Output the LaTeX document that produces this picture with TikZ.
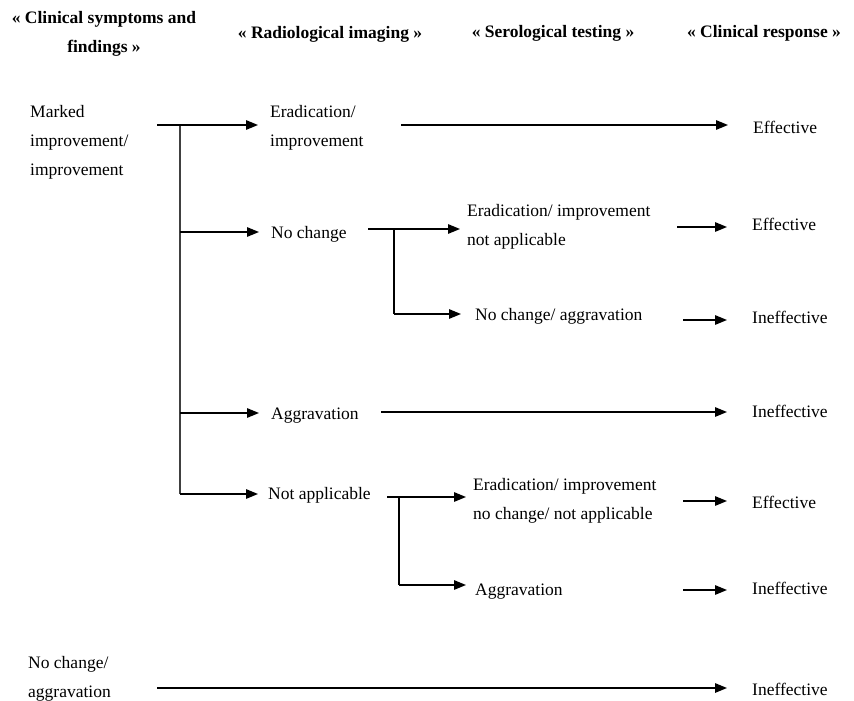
\documentclass[tikz,border=0pt]{standalone}
\usepackage{fontspec}
\setmainfont{Liberation Serif}
\usetikzlibrary{arrows.meta}

\begin{document}
\begin{tikzpicture}[x=1pt, y=-1pt,
  lbl/.style={anchor=base west, inner sep=0pt, align=left,
    font=\fontsize{17.5}{29}\selectfont},
  head/.style={anchor=base, inner sep=0pt, align=center,
    font=\fontsize{17.5}{29}\selectfont\bfseries},
  link/.style={line width=1.4pt},
  arr/.style={link, -{Triangle[length=12pt, width=9.5pt]}, shorten >=12pt}]
\useasboundingbox (0,0) rectangle (854,701);
% column headers (multi-line nodes sit on their last baseline)
\node[head] (hSym) at (104,53) {« Clinical symptoms and\\findings »};
\node[head] (hRad) at (330,39) {« Radiological imaging »};
\node[head] (hSer) at (553,38) {« Serological testing »};
\node[head] (hRes) at (764,38) {« Clinical response »};
% clinical symptoms and findings
\node[lbl] (sMark) at (30,175) {Marked\\improvement/\\improvement};
\node[lbl] (sWorse) at (28,697) {No change/\\aggravation};
% radiological imaging
\node[lbl] (rErad) at (270,146) {Eradication/\\improvement};
\node[lbl] (rNoChg) at (271,238) {No change};
\node[lbl] (rAggr) at (271,419) {Aggravation};
\node[lbl] (rNotApp) at (268,499) {Not applicable};
% serological testing
\node[lbl] (tErad) at (467,245) {Eradication/ improvement\\not applicable};
\node[lbl] (tNoChg) at (475,320) {No change/ aggravation};
\node[lbl] (tAll) at (473,519) {Eradication/ improvement\\no change/ not applicable};
\node[lbl] (tAggr) at (475,595) {Aggravation};
% clinical response
\node[lbl] (cA) at (753,133) {Effective};
\node[lbl] (cB) at (752,230) {Effective};
\node[lbl] (cC) at (752,323) {Ineffective};
\node[lbl] (cD) at (752,417) {Ineffective};
\node[lbl] (cE) at (752,508) {Effective};
\node[lbl] (cF) at (752,594) {Ineffective};
\node[lbl] (cG) at (752,695) {Ineffective};
% junctions
\coordinate (jMark) at (157,125);
\coordinate (jTop) at (180,125);
\coordinate (jNoChg) at (180,232);
\coordinate (jAggr) at (180,413);
\coordinate (jBot) at (180,494);
\coordinate (oNoChg) at (368,229);
\coordinate (kNoChg) at (394,229);
\coordinate (kNoChgB) at (394,314);
\coordinate (oNotApp) at (387,497);
\coordinate (kNotApp) at (399,497);
\coordinate (kNotAppB) at (399,585);
\coordinate (oErad) at (401,125);
\coordinate (oAggr) at (381,412);
\coordinate (oTErad) at (677,227);
\coordinate (oTNoChg) at (683,320);
\coordinate (oTAll) at (683,501);
\coordinate (oTAggr) at (683,590);
\coordinate (jWorse) at (157,688);
% trunk and branches
\draw[link, black!75] (jTop) -- (jBot);
\draw[arr] (jMark) -- (rErad.west |- jMark);
\draw[arr] (jNoChg) -- (rNoChg.west |- jNoChg);
\draw[arr] (jAggr) -- (rAggr.west |- jAggr);
\draw[arr, shorten >=10pt] (jBot) -- (rNotApp.west |- jBot);
% serological splits
\draw[link] (oNoChg) -- (kNoChg) -- (kNoChgB);
\draw[arr, shorten >=7pt] (kNoChg) -- (tErad.west |- kNoChg);
\draw[arr, shorten >=14pt] (kNoChgB) -- (tNoChg.west |- kNoChgB);
\draw[link] (oNotApp) -- (kNotApp) -- (kNotAppB);
\draw[arr, shorten >=7pt] (kNotApp) -- (tAll.west |- kNotApp);
\draw[arr, shorten >=9pt] (kNotAppB) -- (tAggr.west |- kNotAppB);
% to clinical response
\foreach \s/\t in {oErad/cA, oTErad/cB, oTNoChg/cC, oAggr/cD, oTAll/cE, oTAggr/cF, jWorse/cG}
  \draw[arr, shorten >=25pt] (\s) -- (\t.west |- \s);
\end{tikzpicture}
\end{document}
